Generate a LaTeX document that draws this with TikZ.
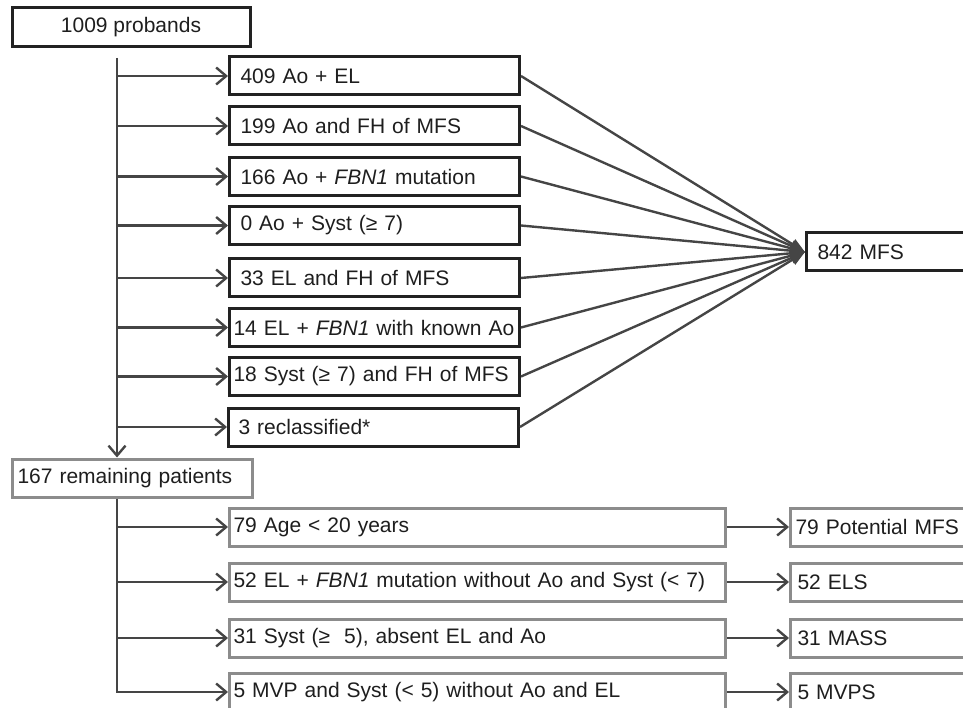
\documentclass[tikz,border=0pt]{standalone}
\usepackage{fontspec}
\setmainfont{Liberation Sans}
\usetikzlibrary{arrows.meta}
\definecolor{linegray}{HTML}{454545}
\definecolor{boxdark}{HTML}{222222}
\definecolor{boxgray}{HTML}{8C8C8C}
\definecolor{txtcol}{HTML}{1E1E1E}
\begin{document}
\begin{tikzpicture}[x=1pt, y=-1pt,
  every node/.style={font=\fontsize{21}{25}\selectfont, text=txtcol},
  upbox/.style={draw=boxdark, line width=3pt, minimum height=38pt, anchor=west, inner xsep=11pt, text width=268pt, align=left},
  lowbox/.style={draw=boxgray, line width=3pt, minimum height=38pt, anchor=west, inner xsep=4pt, text width=488pt, align=left},
  outbox/.style={draw=boxgray, line width=3pt, minimum height=38pt, anchor=west, inner xsep=7pt, text width=200pt, align=left},
  arr/.style={draw=linegray, line width=2.4pt, -{Straight Barb[length=10pt,width=17pt]}},
  conv/.style={draw=linegray, line width=2.4pt, -{Triangle[length=15pt,width=11pt]}}]

\useasboundingbox (0,0) rectangle (963,708);
\clip (0,0) rectangle (963,708);

\node[draw=boxdark, line width=3pt, minimum width=238pt, minimum height=39pt] (P) at (131,27.5) {1009 probands};
\coordinate (T) at (117,58);

\node[upbox] (A1) at (228,76) {409 Ao + EL};
\node[upbox] (A2) at (228,126) {199 Ao and FH of MFS};
\node[upbox] (A3) at (228,176.5) {166 Ao + \textit{FBN1} mutation};
\node[upbox] (A4) at (228,225.5) {0 Ao + Syst (≥ 7)};
\node[upbox] (A5) at (228,278) {33 EL and FH of MFS};
\node[upbox, inner xsep=4pt, text width=282pt] (A6) at (228,327.5) {\mbox{14 EL + \textit{FBN1} with known Ao}};
\node[upbox, inner xsep=4pt, text width=282pt] (A7) at (228,376.5) {\mbox{18 Syst (≥ 7) and FH of MFS}};
\node[upbox, inner xsep=10pt, text width=270pt] (A8) at (227,427) {3 reclassified*};

\node[draw=boxdark, line width=3pt, minimum height=38pt, anchor=west, inner xsep=11pt, text width=200pt, align=left] (M) at (805,252) {842 MFS};

\node[draw=boxgray, line width=3pt, minimum height=38pt, anchor=west, inner xsep=5pt, text width=230pt, align=left] (R) at (11,478) {167 remaining patients};

\node[lowbox] (B1) at (228,527) {79 Age < 20 years};
\node[lowbox] (B2) at (228,582) {\mbox{52 EL + \textit{FBN1} mutation without Ao and Syst (< 7)}};
\node[lowbox] (B3) at (228,638) {31 Syst (≥\ \ 5), absent EL and Ao};
\node[lowbox] (B4) at (228,692) {5 MVP and Syst (< 5) without Ao and EL};

\node[outbox, inner xsep=5pt, text width=204pt] (C1) at (789,527) {\mbox{79 Potential MFS}};
\node[outbox] (C2) at (789,582) {52 ELS};
\node[outbox] (C3) at (789,638) {31 MASS};
\node[outbox] (C4) at (789,692) {5 MVPS};

\draw[arr] (T) -- (T |- R.north);
\draw[arr] (T |- A1) -- (A1.west);
\draw[arr] (T |- A2) -- (A2.west);
\draw[arr] (T |- A3) -- (A3.west);
\draw[arr] (T |- A4) -- (A4.west);
\draw[arr] (T |- A5) -- (A5.west);
\draw[arr] (T |- A6) -- (A6.west);
\draw[arr] (T |- A7) -- (A7.west);
\draw[arr] (T |- A8) -- (A8.west);

\draw[conv] (A1.east) -- (M.west);
\draw[conv] (A2.east) -- (M.west);
\draw[conv] (A3.east) -- (M.west);
\draw[conv] (A4.east) -- (M.west);
\draw[conv] (A5.east) -- (M.west);
\draw[conv] (A6.east) -- (M.west);
\draw[conv] (A7.east) -- (M.west);
\draw[conv] (A8.east) -- (M.west);

\draw[arr] (T |- R.south) -- (T |- B4) -- (B4.west);
\draw[arr] (T |- B1) -- (B1.west);
\draw[arr] (T |- B2) -- (B2.west);
\draw[arr] (T |- B3) -- (B3.west);

\draw[arr] (B1.east) -- (C1.west);
\draw[arr] (B2.east) -- (C2.west);
\draw[arr] (B3.east) -- (C3.west);
\draw[arr] (B4.east) -- (C4.west);
\end{tikzpicture}
\end{document}
